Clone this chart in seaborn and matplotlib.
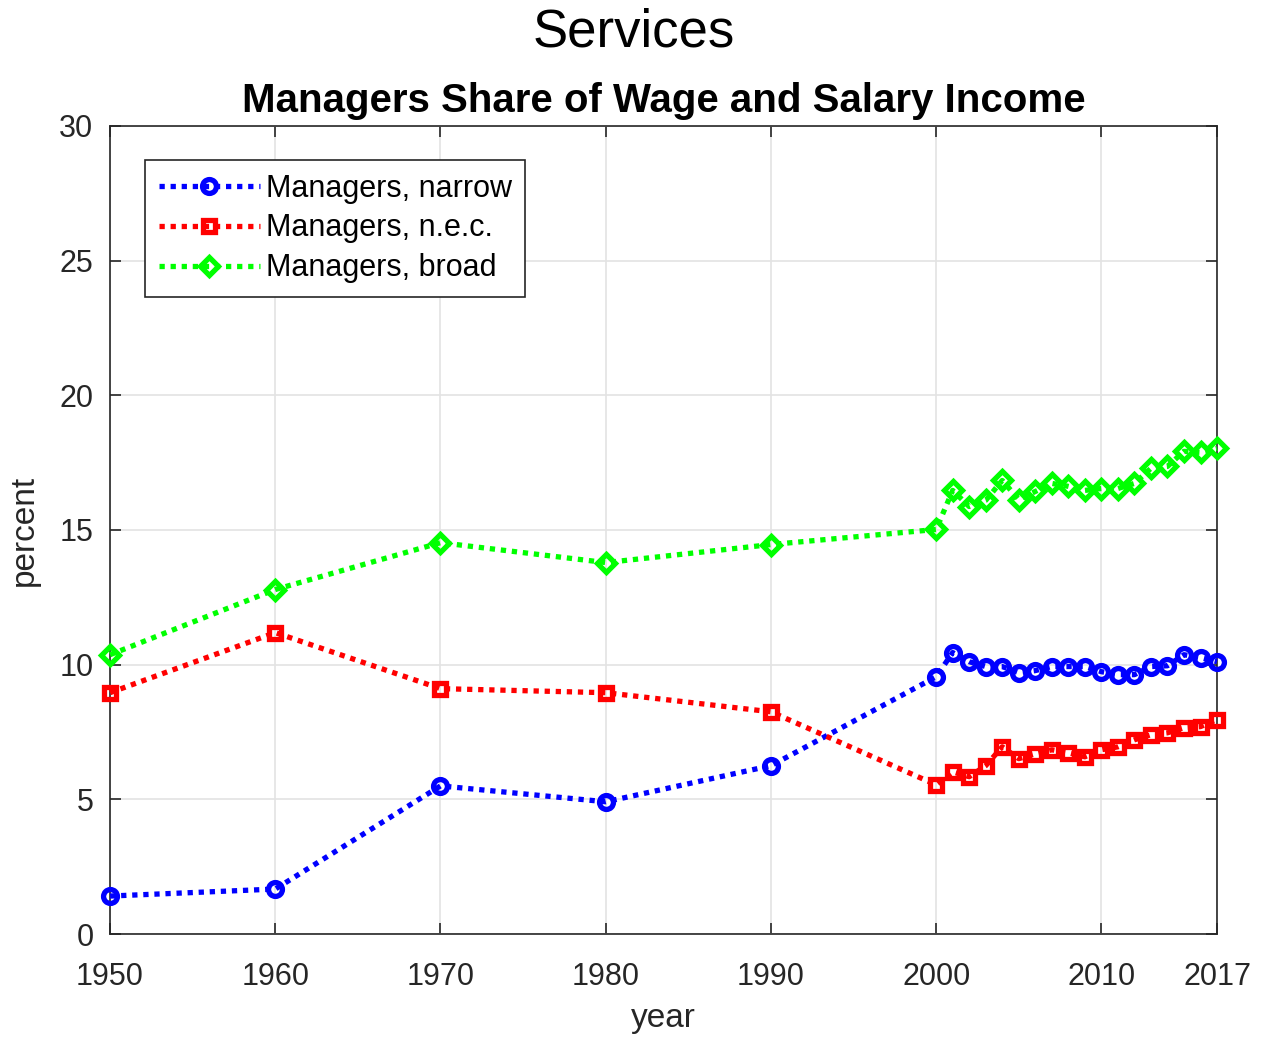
import pandas as pd
import seaborn as sns
from matplotlib import pyplot as plt

years = [1950, 1960, 1970, 1980, 1990, 2000] + list(range(2001, 2018))

narrow = [1.41, 1.67, 5.50, 4.91, 6.25, 9.55,
          10.45, 10.11, 9.93, 9.93, 9.70, 9.78, 9.93, 9.93, 9.93,
          9.74, 9.63, 9.63, 9.93, 9.96, 10.37, 10.26, 10.11]

nec = [8.96, 11.19, 9.11, 8.96, 8.25, 5.54,
       6.02, 5.84, 6.25, 6.95, 6.51, 6.69, 6.84, 6.73, 6.58,
       6.84, 6.95, 7.21, 7.40, 7.47, 7.66, 7.70, 7.96]

broad = [10.37, 12.79, 14.53, 13.79, 14.46, 15.02,
         16.47, 15.87, 16.10, 16.84, 16.13, 16.43, 16.73, 16.62, 16.47,
         16.54, 16.54, 16.73, 17.29, 17.36, 17.92, 17.88, 18.03]

x_ticks = [1950, 1960, 1970, 1980, 1990, 2000, 2010, 2017]

series = [
    ("Managers, narrow", narrow, "#0000ff", "o", 10),
    ("Managers, n.e.c.", nec, "#ff0000", "s", 9),
    ("Managers, broad", broad, "#00ff00", "D", 9.5),
]

sns.set_theme(style="ticks")
plt.rcParams['font.family'] = ['Liberation Sans', 'DejaVu Sans']

fig = plt.figure(figsize=(12.68, 10.47), dpi=100)
ax = fig.add_axes([0.0868, 0.1079, 0.873, 0.7718])

for name, vals, color, mk, ms in series:
    df = pd.DataFrame({'year': years, 'value': vals})
    sns.lineplot(data=df, x='year', y='value', ax=ax, label=name,
                 estimator=None, color=color, linewidth=3.8,
                 linestyle=(0, (1, 1.1)), dash_capstyle='butt',
                 marker=mk, markersize=ms, markeredgewidth=3.8,
                 markerfacecolor='none', markeredgecolor=color,
                 clip_on=False, zorder=3)

ax.set_xlim(1950, 2017)
ax.set_ylim(0, 30)
ax.set_xticks(x_ticks)
ax.set_yticks(range(0, 31, 5))
ax.grid(True, color='#e3e3e3', linewidth=1.2)
ax.set_axisbelow(True)
for sp in ax.spines.values():
    sp.set_visible(True)
    sp.set_color('#262626')
    sp.set_linewidth(1.2)
ax.tick_params(direction='in', length=8, width=1.2, colors='#262626',
               labelsize=22, top=True, right=True)
ax.tick_params(axis='x', pad=20)
ax.tick_params(axis='y', pad=12)

ax.set_xlabel('year', fontsize=24, color='#262626', labelpad=8)
ax.set_ylabel('percent', fontsize=24, color='#262626', labelpad=14)
ax.set_title('Managers Share of Wage and Salary Income', fontsize=29,
             fontweight='bold', color='black', pad=10)
fig.suptitle('Services', fontsize=38, color='black', y=0.993)

leg = ax.legend(loc='upper left', bbox_to_anchor=(0.0316, 0.958), fontsize=22,
                frameon=True, fancybox=False, framealpha=1,
                edgecolor='#262626', handlelength=3.3, handletextpad=0.2,
                borderpad=0.45, labelspacing=0.32, borderaxespad=0)
leg.get_frame().set_linewidth(1.2)
for t in leg.get_texts():
    t.set_color('black')

fig.savefig('out.png', dpi=100)
